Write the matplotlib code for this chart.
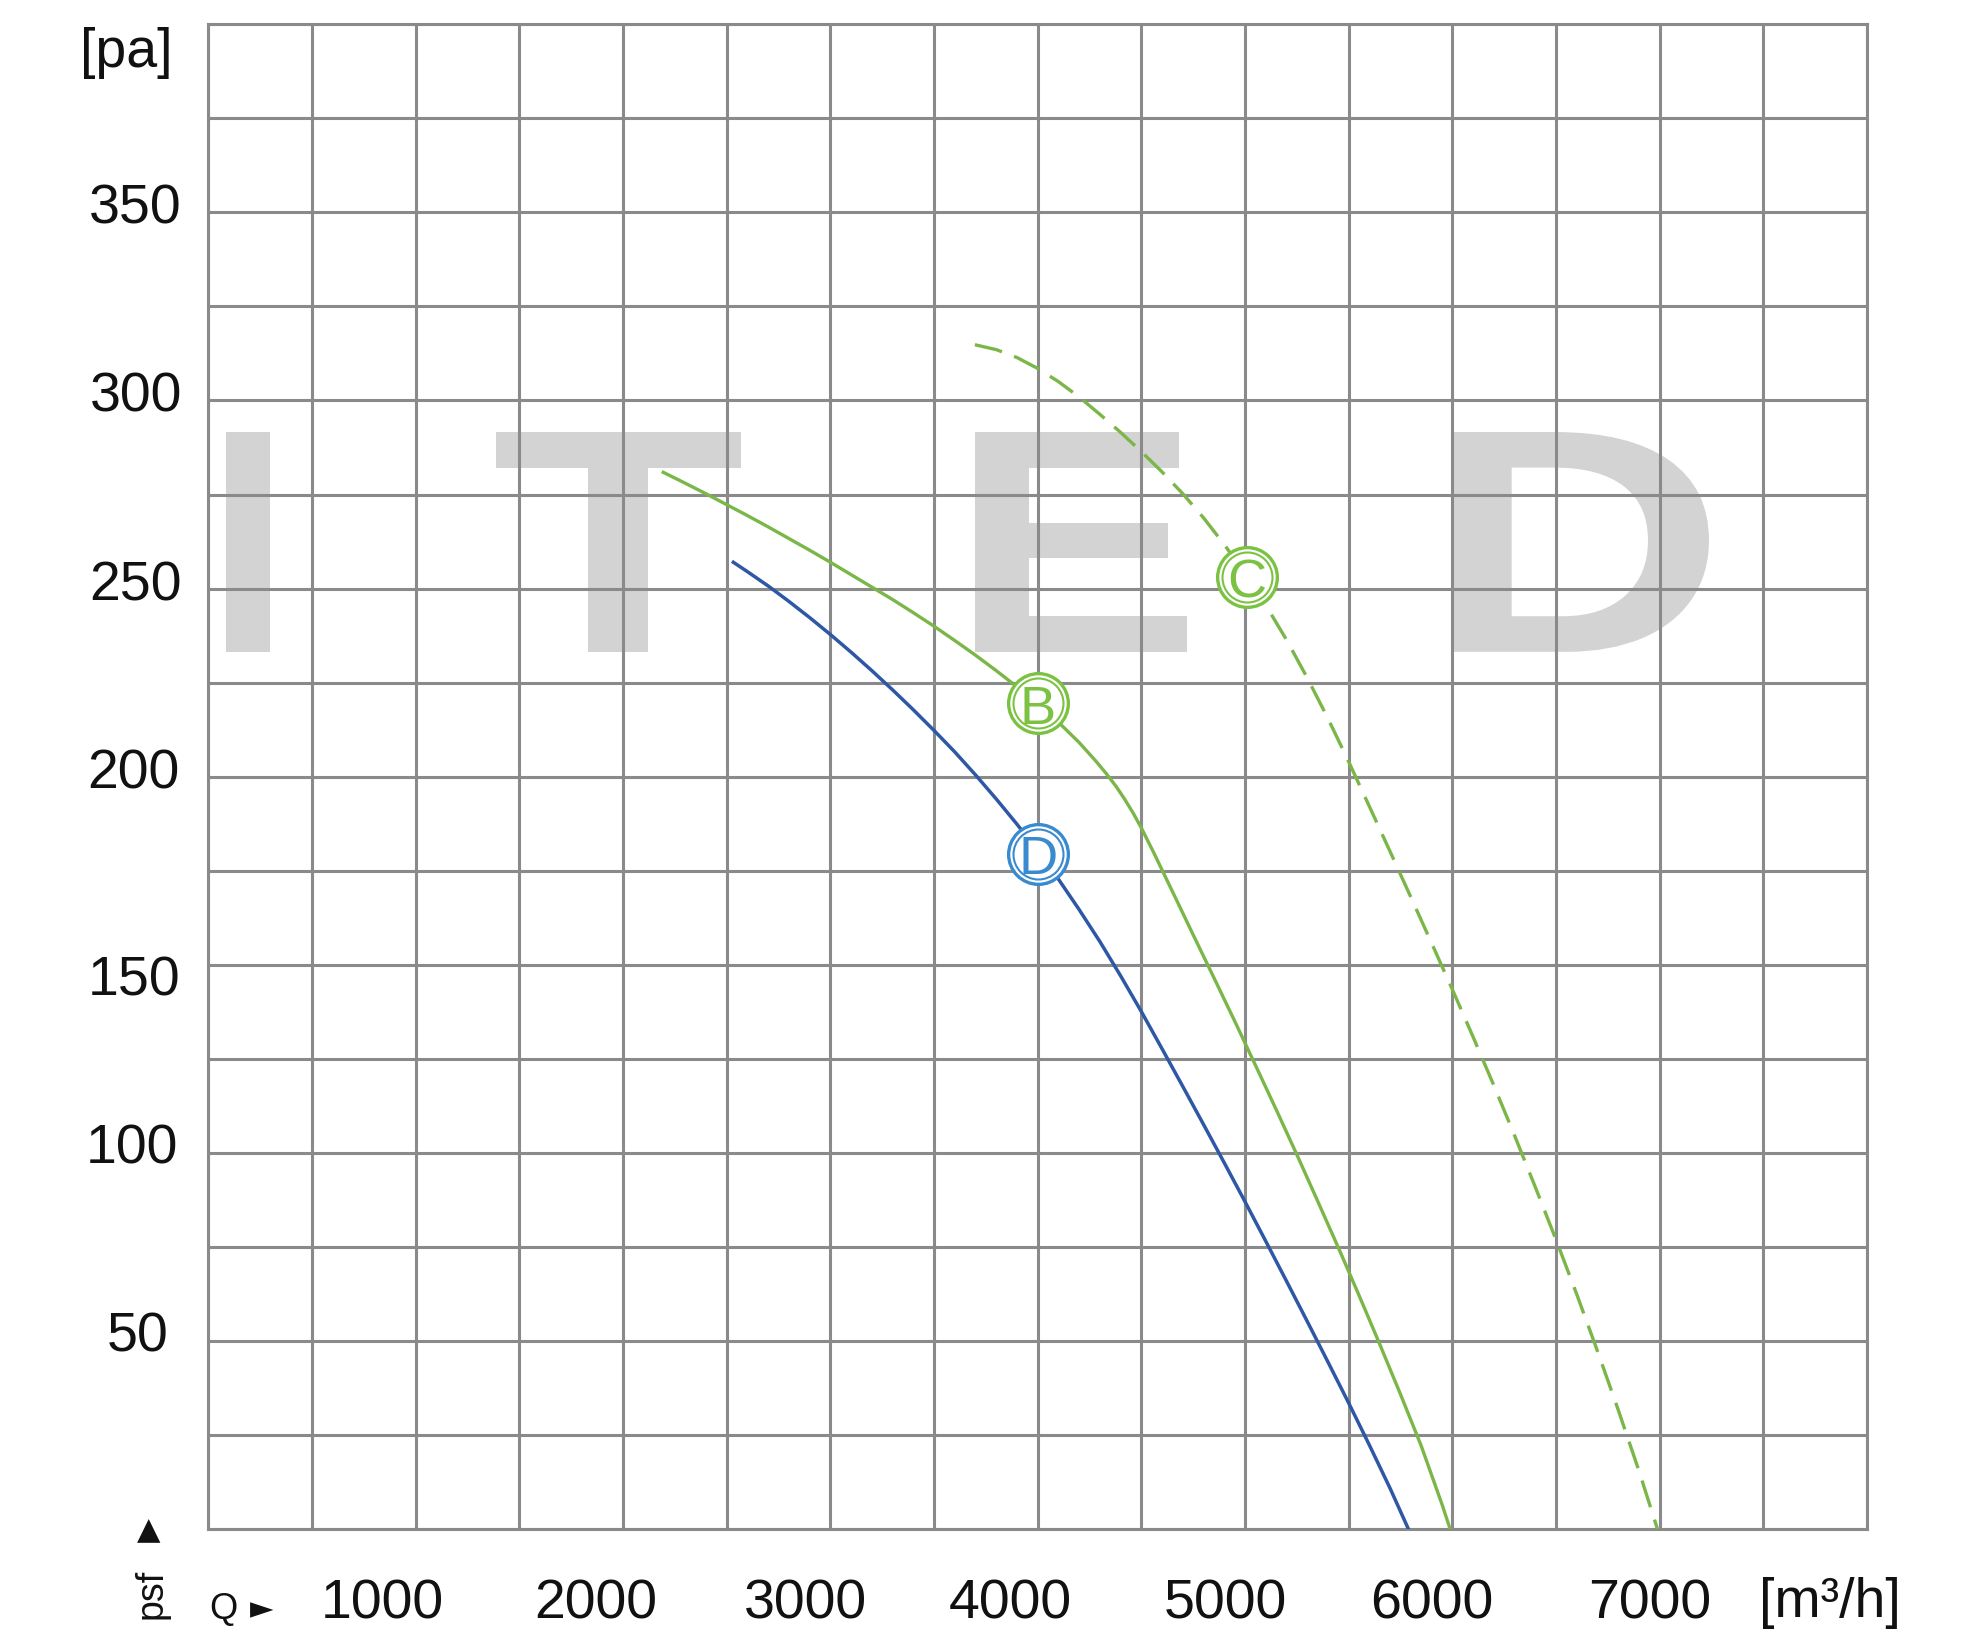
import matplotlib
matplotlib.use("Agg")
import matplotlib.pyplot as plt
import matplotlib.transforms as mtransforms
from matplotlib.textpath import TextPath
from matplotlib.patches import PathPatch
from matplotlib.font_manager import FontProperties
import numpy as np

plt.rcParams['font.family'] = ['Liberation Sans', 'DejaVu Sans']

# curve B - solid green, Q [m3/h] vs p [pa]
b_q = [2194, 2300, 2400, 2500, 2600, 2700, 2800, 2900, 3000, 3100, 3200, 3300,
       3400, 3500, 3600, 3700, 3800, 3900, 4000, 4100, 4200, 4280, 4330, 4380,
       4420, 4460, 4500, 4530, 4560, 4650, 4750, 4850, 4950, 5050, 5150, 5250,
       5350, 5450, 5550, 5650, 5750, 5850, 5950, 5990]
b_p = [280.9, 278.0, 275.2, 272.3, 269.4, 266.4, 263.3, 260.2, 257.0, 253.7, 250.4, 247.1,
       243.6, 240.0, 236.2, 232.3, 228.2, 223.9, 219.4, 214.5, 209.1, 204.2, 200.9, 197.3,
       194.0, 190.4, 186.4, 183.1, 179.8, 169.5, 158.0, 146.6, 135.1, 123.4, 111.6, 99.6,
       87.3, 74.9, 62.2, 49.2, 35.9, 22.2, 6.7, 0]

# curve C - dashed green
c_q = [3697, 3800, 3900, 4000, 4100, 4200, 4300, 4400, 4500, 4600, 4700, 4800,
       4900, 5000, 5100, 5200, 5300, 5400, 5500, 5600, 5700, 5800, 5900, 6000,
       6100, 6200, 6300, 6400, 6500, 6600, 6700, 6800, 6900, 6990]
c_p = [314.8, 313.5, 311.4, 308.5, 305.0, 300.9, 296.3, 291.5, 286.4, 281.0, 275.2, 268.8,
       261.7, 254.0, 245.6, 236.4, 226.3, 215.5, 204.0, 192.1, 180.1, 168.0, 155.8, 143.5,
       130.9, 118.0, 104.7, 91.0, 77.0, 62.5, 47.4, 31.8, 15.6, 0]

# curve D - blue
d_q = [2532, 2600, 2700, 2800, 2900, 3000, 3100, 3200, 3300, 3400, 3500, 3600,
       3700, 3800, 3900, 4000, 4100, 4200, 4300, 4400, 4500, 4600, 4700, 4800,
       4900, 5000, 5100, 5200, 5300, 5400, 5500, 5600, 5700, 5789]
d_p = [257.0, 254.5, 250.7, 246.6, 242.3, 237.8, 233.1, 228.2, 223.1, 217.8, 212.3, 206.6,
       200.5, 194.1, 187.4, 180.3, 172.8, 164.7, 156.2, 147.1, 137.6, 127.7, 117.7, 107.6,
       97.4, 87.1, 76.6, 66.0, 55.3, 44.5, 33.6, 22.4, 10.9, 0]

# circled letters on the curves
marker_labels = ['B', 'C', 'D']
marker_q = [4000, 5010, 4000]
marker_p = [219.5, 253, 179.5]

x_tick_vals = [1000, 2000, 3000, 4000, 5000, 6000, 7000]
y_tick_vals = [50, 100, 150, 200, 250, 300, 350]

green = '#7ab648'
green_mk = '#7cc242'
blue = '#2e57a5'
blue_mk = '#3a8ad0'
grid_col = '#8a8a8a'
mk_col = {'B': green_mk, 'C': green_mk, 'D': blue_mk}

fig = plt.figure(figsize=(19.7, 16.4), dpi=100)
ax = fig.add_axes([0.1058, 0.0668, 0.8419, 0.9179])
ax.set_xlim(0, 8000)
ax.set_ylim(0, 400)

ax.set_xticks(np.arange(0, 8001, 500))
ax.set_yticks(np.arange(0, 401, 25))
ax.tick_params(length=0, labelbottom=False, labelleft=False)
ax.grid(True, color=grid_col, lw=2.2)
for s in ax.spines.values():
    s.set_color(grid_col)
    s.set_linewidth(2.2)

# watermark letters, stretched into their boxes (data units)
wm_font = FontProperties(family='Liberation Sans', weight='bold')
wm_boxes = [(84, 297), (1387, 2569), (3697, 4720), (5994, 7238)]
wm_y0, wm_y1 = 233.2, 291.6
for ch, (x0, x1) in zip("ITED", wm_boxes):
    tp = TextPath((0, 0), ch, size=1, prop=wm_font)
    ext = tp.get_extents()
    tr = (mtransforms.Affine2D().translate(-ext.x0, -ext.y0)
          .scale((x1 - x0) / ext.width, (wm_y1 - wm_y0) / ext.height)
          .translate(x0, wm_y0))
    ax.add_patch(PathPatch(tr.transform_path(tp), fc='#d3d3d3', ec='none', zorder=1))

# curves
ax.plot(b_q, b_p, color=green, lw=2.4, zorder=3, solid_joinstyle='round')
ax.plot(c_q, c_p, color=green, lw=2.4, zorder=3, dashes=(8.4, 3.9))
ax.plot(d_q, d_p, color=blue, lw=2.5, zorder=3, solid_joinstyle='round')

for lab, q, p in zip(marker_labels, marker_q, marker_p):
    c = mk_col[lab]
    ax.plot(q, p, 'o', ms=43, mfc='white', mec=c, mew=2.4, zorder=4)
    ax.plot(q, p, 'o', ms=36, mfc='none', mec=c, mew=1.5, zorder=4)
    ax.annotate(lab, xy=(q, p), xytext=(0, -14), textcoords='offset points',
                ha='center', va='baseline', fontsize=39, color=c, zorder=5)

# x labels (offsets in px, converted to points)
x_shift = {1000: -33, 2000: -27, 3000: -25, 4000: -27, 5000: -20, 6000: -21, 7000: -10}
for v in x_tick_vals:
    ax.annotate(f"{v}", xy=(v, 0), xycoords=('data', 'axes fraction'),
                xytext=(x_shift[v] * 0.72, -87.6 * 0.72), textcoords='offset points',
                ha='center', va='baseline', fontsize=40, color='#111111')

# y labels
y_up = {50: 11, 100: 11, 150: -10, 200: 9, 250: 9, 300: 10, 350: 10}
y_right = {50: 39.5, 100: 30.5, 150: 28.5, 200: 28.5, 250: 27, 300: 26.5, 350: 26.5}
for v in y_tick_vals:
    ax.annotate(f"{v}", xy=(0, v), xycoords=('axes fraction', 'data'),
                xytext=(-y_right[v] * 0.72, (y_up[v] - 19.9) * 0.72),
                textcoords='offset points',
                ha='right', va='baseline', fontsize=40, color='#111111')

ax.annotate('[pa]', xy=(0, 1), xycoords='axes fraction',
            xytext=(-35.5 * 0.72, -42.4 * 0.72), textcoords='offset points',
            ha='right', va='baseline', fontsize=40, color='#111111')

W, H = 1970, 1640
fig.text(1830 / W, 1 - 1617 / H, '[m³/h]', ha='center', va='baseline',
         fontsize=40, color='#111111')
fig.text(223 / W, 1 - 1619 / H, 'Q', ha='center', va='baseline',
         fontsize=26, color='#111111')
fig.text(262 / W, 1 - 1609.5 / H, '►', ha='center', va='center',
         fontsize=22, color='#111111', family='DejaVu Sans')
fig.text(152 / W, 1 - 1594 / H, 'psf', ha='center', va='center', rotation=90,
         fontsize=27, color='#111111')
fig.text(148.5 / W, 1 - 1531 / H, '▲', ha='center', va='center',
         fontsize=22, color='#111111', family='DejaVu Sans')

fig.savefig('out.png', dpi=100, facecolor='white')
